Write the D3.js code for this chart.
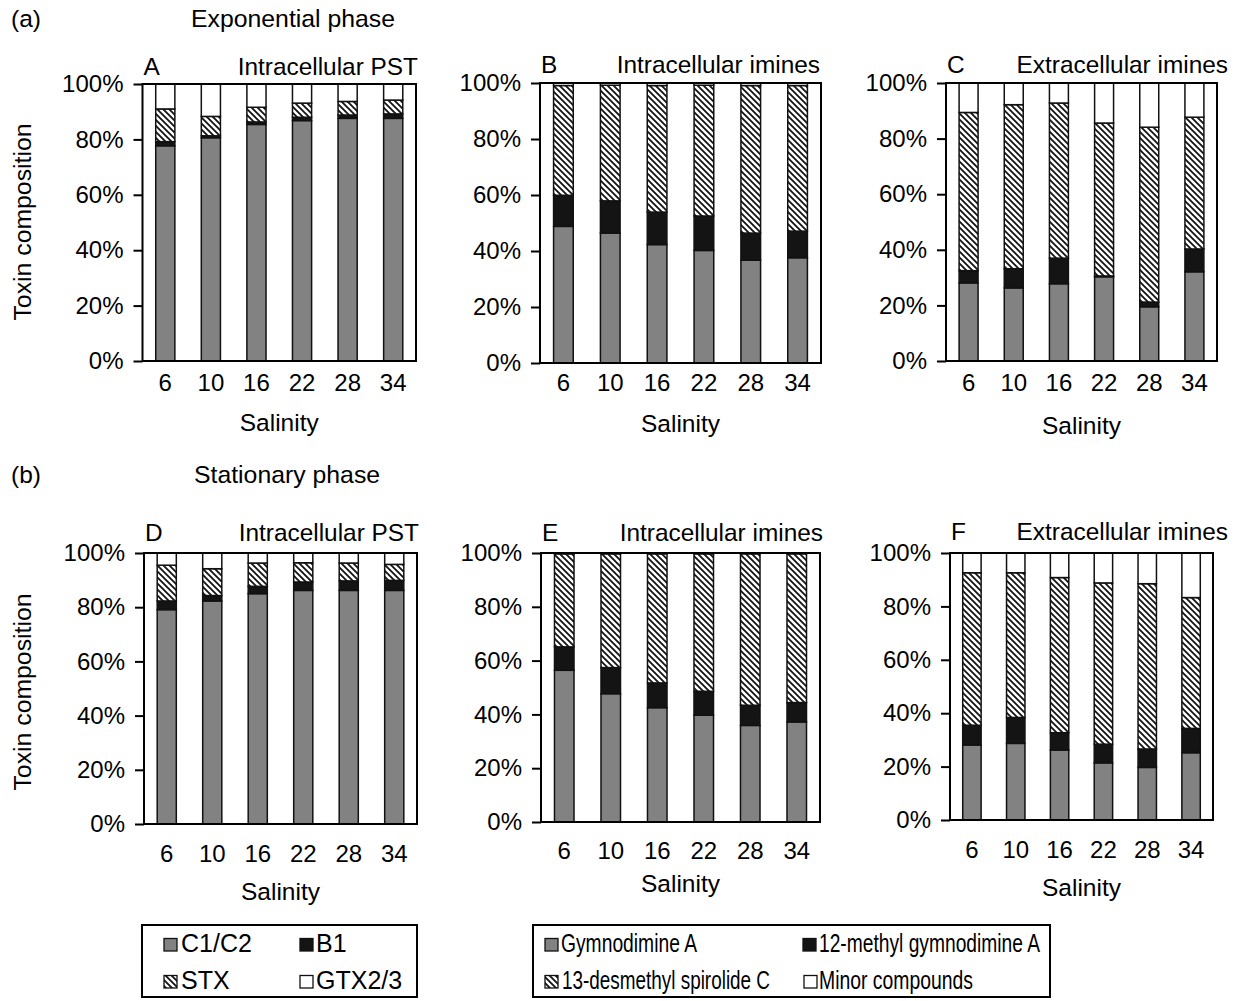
<!DOCTYPE html>
<html>
<head>
<meta charset="utf-8">
<script src="https://cdn.jsdelivr.net/npm/d3@7"></script>
<style>
  body { margin: 0; background: #fff; }
  svg { display: block; }
  text { font-family: Arial, "Liberation Sans", sans-serif; fill: #000; }
</style>
</head>
<body>
<svg id="fig" width="1236" height="1001"></svg>
<script>
// ---- data (percent of total toxin, bottom to top of each stack) ----
const salinity = ["6", "10", "16", "22", "28", "34"];
const percentTicks = [0, 20, 40, 60, 80, 100];
const pstSeries = ["C1/C2", "B1", "STX", "GTX2/3"];
const imineSeries = ["Gymnodimine A", "12-methyl gymnodimine A", "13-desmethyl spirolide C", "Minor compounds"];

// (a) exponential phase
const expPstC1C2 = [77.7, 80.6, 85.4, 86.8, 87.6, 87.6];
const expPstB1   = [1.5, 0.7, 0.9, 1.2, 1.2, 1.6];
const expPstSTX  = [11.8, 7.0, 5.3, 5.1, 4.9, 5.0];
const expPstGTX  = [9.0, 11.7, 8.4, 6.9, 6.3, 5.8];

const expIntraGymA   = [48.8, 46.4, 42.3, 40.2, 36.7, 37.6];
const expIntraMeGymA = [11.1, 11.5, 11.6, 12.3, 9.7, 9.5];
const expIntraSpx    = [39.2, 41.3, 45.2, 46.7, 52.7, 52.0];
const expIntraMinor  = [0.9, 0.8, 0.9, 0.8, 0.9, 0.9];

const expExtraGymA   = [28.1, 26.3, 27.8, 30.3, 19.5, 32.1];
const expExtraMeGymA = [4.4, 6.9, 9.2, 0.3, 1.7, 8.2];
const expExtraSpx    = [56.9, 59.0, 55.8, 55.0, 62.9, 47.4];
const expExtraMinor  = [10.6, 7.8, 7.2, 14.4, 15.9, 12.3];

// (b) stationary phase
const staPstC1C2 = [79.1, 82.3, 85.0, 86.2, 86.2, 86.2];
const staPstB1   = [3.2, 2.0, 2.7, 3.1, 3.5, 3.7];
const staPstSTX  = [13.2, 9.9, 8.6, 7.1, 6.6, 5.9];
const staPstGTX  = [4.5, 5.8, 3.7, 3.6, 3.7, 4.2];

const staIntraGymA   = [56.4, 47.7, 42.5, 39.7, 35.9, 37.2];
const staIntraMeGymA = [8.7, 9.7, 9.2, 8.9, 7.5, 7.2];
const staIntraSpx    = [34.6, 42.3, 48.0, 51.1, 56.3, 55.3];
const staIntraMinor  = [0.3, 0.3, 0.3, 0.3, 0.3, 0.3];

const staExtraGymA   = [28.1, 28.7, 26.2, 21.4, 19.7, 25.2];
const staExtraMeGymA = [7.4, 9.7, 6.5, 7.0, 6.9, 9.1];
const staExtraSpx    = [57.1, 54.2, 58.1, 60.4, 61.9, 49.0];
const staExtraMinor  = [7.4, 7.4, 9.2, 11.2, 11.5, 16.7];

// ---- drawing ----
const FONT = 'Arial, "Liberation Sans", sans-serif';
const svg = d3.select("#fig");

const defs = svg.append("defs");
const hatch = defs.append("pattern")
  .attr("id", "hatch")
  .attr("patternUnits", "userSpaceOnUse")
  .attr("width", 6).attr("height", 6);
hatch.append("rect").attr("width", 6).attr("height", 6).attr("fill", "#fff");
hatch.append("path")
  .attr("d", "M0,0 L6,6 M-3,3 L3,9 M3,-3 L9,3")
  .attr("stroke", "#111").attr("stroke-width", 1.8);

const fills = ["#828282", "#141414", "url(#hatch)", "#ffffff"];

function drawPanel(p) {
  const g = svg.append("g");
  const x = d3.scaleBand().domain(salinity)
    .range([p.x0, p.x1]).paddingInner(0.58).paddingOuter(0.29);
  const y = d3.scaleLinear().domain([0, 100]).range([p.y1, p.y0]);

  const rows = salinity.map((s, i) => {
    const r = { salinity: s };
    p.keys.forEach((k, j) => { r[k] = p.values[j][i]; });
    return r;
  });
  const layers = d3.stack().keys(p.keys)(rows);

  g.selectAll("g.layer").data(layers).join("g")
    .attr("class", "layer")
    .attr("fill", (d, i) => fills[i])
    .selectAll("rect").data(d => d).join("rect")
    .attr("x", d => x(d.data.salinity))
    .attr("width", x.bandwidth())
    .attr("y", d => y(d[1]))
    .attr("height", d => y(d[0]) - y(d[1]))
    .attr("stroke", "#111")
    .attr("stroke-width", 1.5);

  // y axis with outward ticks
  const ya = g.append("g")
    .attr("transform", `translate(${p.x0},0)`)
    .call(d3.axisLeft(y).tickValues(percentTicks)
      .tickFormat(d => d + "%").tickSize(9).tickPadding(10))
    .attr("font-family", FONT).attr("font-size", 24);
  ya.select(".domain").remove();
  ya.selectAll("line").attr("stroke", "#000").attr("stroke-width", 2);
  ya.selectAll("text").attr("fill", "#000");

  // x axis category labels
  const xa = g.append("g")
    .attr("transform", `translate(0,${p.y1})`)
    .call(d3.axisBottom(x).tickSize(0))
    .attr("font-family", FONT).attr("font-size", 24);
  xa.select(".domain").remove();
  xa.selectAll("text").attr("y", p.tickY - p.y1).attr("dy", 0).attr("fill", "#000");

  // plot frame
  g.append("rect")
    .attr("x", p.x0).attr("y", p.y0)
    .attr("width", p.x1 - p.x0).attr("height", p.y1 - p.y0)
    .attr("fill", "none").attr("stroke", "#000").attr("stroke-width", 2);

  // panel letter and title
  g.append("text").attr("x", p.x0 + 1).attr("y", p.titleY)
    .attr("font-size", 24.4).text(p.letter);
  g.append("text").attr("x", p.titleX).attr("y", p.titleY)
    .attr("text-anchor", "end").attr("font-size", 24.4).text(p.title);

  // x axis title
  g.append("text").attr("x", (p.x0 + p.x1) / 2).attr("y", p.salY)
    .attr("text-anchor", "middle").attr("font-size", 24.5).text("Salinity");
}

drawPanel({ letter: "A", title: "Intracellular PST", keys: pstSeries,
  values: [expPstC1C2, expPstB1, expPstSTX, expPstGTX],
  x0: 142.5, x1: 416, y0: 84, y1: 361, tickY: 391, salY: 431, titleY: 75, titleX: 418 });
drawPanel({ letter: "B", title: "Intracellular imines", keys: imineSeries,
  values: [expIntraGymA, expIntraMeGymA, expIntraSpx, expIntraMinor],
  x0: 540, x1: 821, y0: 83, y1: 363, tickY: 391, salY: 432, titleY: 73, titleX: 820 });
drawPanel({ letter: "C", title: "Extracellular imines", keys: imineSeries,
  values: [expExtraGymA, expExtraMeGymA, expExtraSpx, expExtraMinor],
  x0: 946, x1: 1217, y0: 83, y1: 361, tickY: 391, salY: 434, titleY: 73, titleX: 1228 });
drawPanel({ letter: "D", title: "Intracellular PST", keys: pstSeries,
  values: [staPstC1C2, staPstB1, staPstSTX, staPstGTX],
  x0: 144, x1: 417, y0: 553, y1: 824, tickY: 862, salY: 900, titleY: 541, titleX: 419 });
drawPanel({ letter: "E", title: "Intracellular imines", keys: imineSeries,
  values: [staIntraGymA, staIntraMeGymA, staIntraSpx, staIntraMinor],
  x0: 541, x1: 820, y0: 553, y1: 822, tickY: 859, salY: 892, titleY: 541, titleX: 823 });
drawPanel({ letter: "F", title: "Extracellular imines", keys: imineSeries,
  values: [staExtraGymA, staExtraMeGymA, staExtraSpx, staExtraMinor],
  x0: 950, x1: 1213, y0: 553, y1: 820, tickY: 858, salY: 896, titleY: 540, titleX: 1228 });

// row labels
svg.append("text").attr("x", 11).attr("y", 27).attr("font-size", 24.5).text("(a)");
svg.append("text").attr("x", 191).attr("y", 27).attr("font-size", 24.8).text("Exponential phase");
svg.append("text").attr("x", 11).attr("y", 483).attr("font-size", 24.5).text("(b)");
svg.append("text").attr("x", 194).attr("y", 483).attr("font-size", 24.8).text("Stationary phase");

// y axis titles
[222, 692].forEach(cy => {
  svg.append("text")
    .attr("transform", `translate(31,${cy}) rotate(-90)`)
    .attr("text-anchor", "middle").attr("font-size", 24.8)
    .text("Toxin composition");
});

// legends
function drawLegend(box, items, names, fontSize) {
  const g = svg.append("g");
  g.append("rect")
    .attr("x", box.x0).attr("y", box.y0)
    .attr("width", box.x1 - box.x0).attr("height", box.y1 - box.y0)
    .attr("fill", "#fff").attr("stroke", "#000").attr("stroke-width", 2);
  items.forEach((it, i) => {
    g.append("rect")
      .attr("x", it.sx).attr("y", it.base - 13.5)
      .attr("width", 13).attr("height", 12.5)
      .attr("fill", fills[i]).attr("stroke", "#111").attr("stroke-width", 1.3);
    const t = g.append("text")
      .attr("x", it.tx).attr("y", it.base)
      .attr("font-size", fontSize).text(names[i]);
    if (it.w) t.attr("textLength", it.w).attr("lengthAdjust", "spacingAndGlyphs");
  });
}

drawLegend({ x0: 142, x1: 417, y0: 925, y1: 997 }, [
  { sx: 164, tx: 181, base: 952 },
  { sx: 300, tx: 316, base: 952 },
  { sx: 164, tx: 181, base: 989 },
  { sx: 300, tx: 316, base: 989 }
], pstSeries, 25);

drawLegend({ x0: 533, x1: 1050, y0: 925, y1: 997 }, [
  { sx: 545, tx: 561, base: 952, w: 136 },
  { sx: 803, tx: 819, base: 952, w: 221 },
  { sx: 545, tx: 562, base: 989, w: 208 },
  { sx: 804, tx: 819, base: 989, w: 154 }
], imineSeries, 25);
</script>
</body>
</html>
